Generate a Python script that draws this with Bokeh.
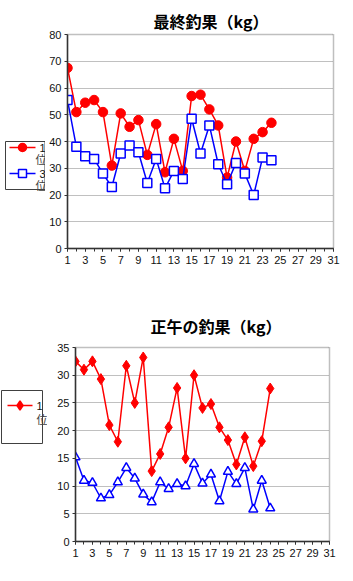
from bokeh.plotting import figure
from bokeh.layouts import column, row
from bokeh.models import FixedTicker, Range1d
from bokeh.core.properties import value
from bokeh.embed import file_html
from bokeh.resources import INLINE

# ---------------- data ----------------
days = list(range(1, 25))
final_1st = [67.5, 51, 54.5, 55.5, 51, 31, 50.5, 45.5, 48, 35, 46.5, 28.5,
             41, 29, 57, 57.5, 52, 46, 26.5, 40, 29, 41, 43.5, 47]
final_3rd = [55.5, 38, 34.5, 33.5, 28, 23, 35.5, 38.5, 36, 24.5, 33.5, 22.5,
             29, 26, 48.5, 35.5, 46, 31.5, 24, 32, 28, 20, 34, 33]
noon_1st = [32.5, 31, 32.5, 29.3, 21, 18, 31.7, 25, 33.2, 12.7, 15.8, 20.6,
            27.7, 15, 30, 24.1, 24.8, 20.6, 18.3, 13.9, 18.8, 13.6, 18.1, 27.6]
noon_3rd = [15.2, 11, 10.6, 7.8, 8.4, 10.7, 13.3, 11.4, 8.5, 7.1, 10.7, 9.5,
            10.4, 10, 14, 10.5, 12.1, 7.3, 12.6, 10.4, 13.3, 5.8, 11, 6]
x_ticks = list(range(1, 32, 2))
x_minor = list(range(1, 32))
final_y_ticks = list(range(0, 81, 10))
noon_y_ticks = list(range(0, 36, 5))
title_final = "最終釣果（kg）"
title_noon = "正午の釣果（kg）"
label_1st = "1"
label_3rd = "3"
rank_char = "位"

RED = "#ff0000"
BLUE = "#0000ff"
TICK_FONT = "Liberation Sans"
CJK_FONT = "Noto Sans CJK JP"


def base_figure(width, height, left, right, top, bottom, ymax, yticks, title,
                title_offset, title_standoff):
    p = figure(width=width, height=height, output_backend="svg", toolbar_location=None,
               x_range=Range1d(1, 31), y_range=Range1d(0, ymax),
               min_border_left=left, min_border_right=right,
               min_border_top=top, min_border_bottom=bottom)
    p.title.text = title
    p.title.align = "left"
    p.title.offset = title_offset
    p.title.text_font = CJK_FONT
    p.title.text_font_size = "16px"
    p.title.text_font_style = "bold"
    p.title.text_color = "#000000"
    p.title.standoff = title_standoff
    p.xaxis.ticker = FixedTicker(ticks=x_ticks, minor_ticks=x_minor)
    p.yaxis.ticker = FixedTicker(ticks=yticks)
    for ax in (p.xaxis[0], p.yaxis[0]):
        ax.axis_line_color = "#333333"
        ax.axis_line_width = 1.5
        ax.major_tick_line_color = "#333333"
        ax.minor_tick_line_color = "#333333"
        ax.major_tick_in = 0
        ax.major_tick_out = 3
        ax.minor_tick_in = 0
        ax.minor_tick_out = 3
        ax.major_label_text_font = TICK_FONT
        ax.major_label_text_font_size = "11px"
        ax.major_label_text_color = "#111111"
        ax.major_label_standoff = 4
    p.yaxis.minor_tick_line_color = None
    p.yaxis.major_label_standoff = 3
    p.xgrid.visible = False
    p.ygrid.grid_line_color = "#808080"
    p.ygrid.grid_line_dash = "1 1"
    p.ygrid.grid_line_width = 1
    p.outline_line_color = "#808080"
    p.outline_line_dash = "1 1"
    p.outline_line_width = 1.5
    p.background_fill_color = "white"
    p.border_fill_color = "white"
    return p


def legend_figure(width, height, top, bottom, box, entries, ranks):
    """Legend panel; its frame is aligned with the chart's frame, so the y range
    is given in figure pixels (y down) between the frame's top and bottom."""
    lf = figure(width=width, height=height, output_backend="svg", toolbar_location=None,
                x_range=Range1d(0, width), y_range=Range1d(height - bottom, top),
                x_axis_location=None, y_axis_location=None, title_location=None,
                min_border_left=0, min_border_right=0,
                min_border_top=top, min_border_bottom=bottom)
    lf.grid.visible = False
    lf.outline_line_color = None
    lf.border_fill_color = "white"
    lf.background_fill_color = "white"
    left, right, btop, bbottom = box
    lf.quad(left=[left], right=[right], top=[btop], bottom=[bbottom],
            fill_color="white", line_color="#404040", line_width=1)
    for (x0, x1, y, color, marker, fill, size, text) in entries:
        lf.line([x0, x1], [y, y], line_color=color, line_width=1.5)
        lf.scatter([(x0 + x1) / 2], [y], marker=marker, size=size, fill_color=fill,
                   line_color=color, line_width=1.5)
        lf.text([x1 + 4], [y], text=[text], text_font=value(TICK_FONT),
                text_font_size="11px", text_color="#111111",
                text_align="left", text_baseline="middle")
    for (x, y) in ranks:
        lf.text([x], [y], text=[rank_char], text_font=value(CJK_FONT),
                text_font_size="11px", text_color="#404040",
                text_align="left", text_baseline="middle")
    return lf


# ---------------- chart 1: final ----------------
LW1 = 45
p1 = base_figure(353 - LW1, 290, 67 - LW1, 20, 34, 42, 80, final_y_ticks,
                 title_final, 86, 4)
p1.line(days, final_1st, line_color=RED, line_width=1.5)
p1.scatter(days, final_1st, marker="circle", size=9.5, fill_color=RED, line_color=RED)
p1.line(days, final_3rd, line_color=BLUE, line_width=1.5)
p1.scatter(days, final_3rd, marker="square", size=9, fill_color="white",
           line_color=BLUE, line_width=1.5)
lf1 = legend_figure(LW1, 290, 34, 42, (5, 44.5, 141, 189),
                    [(9, 35, 147, RED, "circle", RED, 8, label_1st),
                     (9, 35, 173, BLUE, "square", "white", 8, label_3rd)],
                    [(35, 158), (35, 184)])

# ---------------- chart 2: noon ----------------
LW2 = 47
p2 = base_figure(353 - LW2, 291, 75 - LW2, 24, 57, 40, 35, noon_y_ticks,
                 title_noon, 75, 20)
p2.line(days, noon_1st, line_color=RED, line_width=1.5)
p2.scatter(days, noon_1st, marker="diamond", size=11, fill_color=RED, line_color=RED)
p2.line(days, noon_3rd, line_color=BLUE, line_width=1.5)
p2.scatter(days, noon_3rd, marker="triangle", size=9, fill_color="white",
           line_color=BLUE, line_width=1.5)
lf2 = legend_figure(LW2, 291, 57, 40, (1, 42, 100, 153),
                    [(7, 32, 115, RED, "diamond", RED, 9, label_1st)],
                    [(36, 128)])

layout = column(row(lf1, p1, spacing=0), row(lf2, p2, spacing=0), spacing=0)
open("out.html", "w").write(file_html(layout, INLINE))
